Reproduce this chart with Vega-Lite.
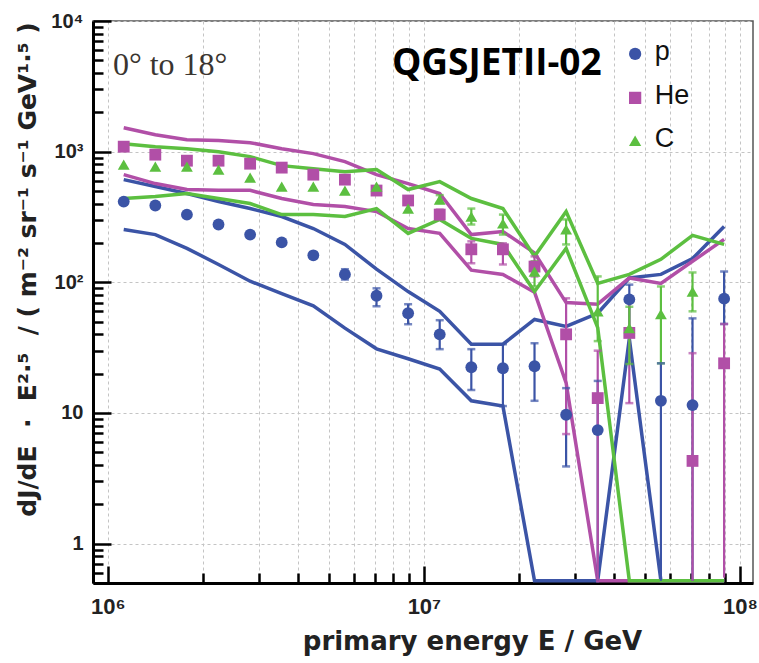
{
  "$schema": "https://vega.github.io/schema/vega-lite/v6.json",
  "autosize": "none",
  "width": 660,
  "height": 562,
  "padding": {"left": 93, "top": 21, "right": 6, "bottom": 80},
  "background": "white",
  "config": {
    "view": {"stroke": "#555555", "strokeWidth": 1.5},
    "axis": {"domainColor": "#000000", "domainWidth": 3, "tickColor": "#000000", "gridColor": "#c4c4c4", "gridDash": [3, 3], "gridWidth": 1}
  },
  "datasets": {
    "lines": [
      {"E": 1122018, "el": "p", "b": "u", "v": 611}, {"E": 1412538, "el": "p", "b": "u", "v": 541}, {"E": 1778279, "el": "p", "b": "u", "v": 478}, {"E": 2238721, "el": "p", "b": "u", "v": 415}, {"E": 2818383, "el": "p", "b": "u", "v": 367}, {"E": 3548134, "el": "p", "b": "u", "v": 319}, {"E": 4466836, "el": "p", "b": "u", "v": 258}, {"E": 5623413, "el": "p", "b": "u", "v": 195}, {"E": 7079458, "el": "p", "b": "u", "v": 126}, {"E": 8912509, "el": "p", "b": "u", "v": 85}, {"E": 11220185, "el": "p", "b": "u", "v": 60}, {"E": 14125375, "el": "p", "b": "u", "v": 33.6}, {"E": 17782794, "el": "p", "b": "u", "v": 33.6}, {"E": 22387211, "el": "p", "b": "u", "v": 52}, {"E": 28183829, "el": "p", "b": "u", "v": 46}, {"E": 35481339, "el": "p", "b": "u", "v": 58}, {"E": 44668359, "el": "p", "b": "u", "v": 108}, {"E": 56234133, "el": "p", "b": "u", "v": 115}, {"E": 70794578, "el": "p", "b": "u", "v": 152}, {"E": 89125094, "el": "p", "b": "u", "v": 267},
      {"E": 1122018, "el": "p", "b": "l", "v": 254}, {"E": 1412538, "el": "p", "b": "l", "v": 232}, {"E": 1778279, "el": "p", "b": "l", "v": 182}, {"E": 2238721, "el": "p", "b": "l", "v": 137}, {"E": 2818383, "el": "p", "b": "l", "v": 102}, {"E": 3548134, "el": "p", "b": "l", "v": 82}, {"E": 4466836, "el": "p", "b": "l", "v": 66}, {"E": 5623413, "el": "p", "b": "l", "v": 44.6}, {"E": 7079458, "el": "p", "b": "l", "v": 31}, {"E": 8912509, "el": "p", "b": "l", "v": 26}, {"E": 11220185, "el": "p", "b": "l", "v": 21.7}, {"E": 14125375, "el": "p", "b": "l", "v": 12.4}, {"E": 17782794, "el": "p", "b": "l", "v": 11.3}, {"E": 22387211, "el": "p", "b": "l", "v": 0.52}, {"E": 28183829, "el": "p", "b": "l", "v": 0.52}, {"E": 35481339, "el": "p", "b": "l", "v": 0.52}, {"E": 44668359, "el": "p", "b": "l", "v": 37}, {"E": 56234133, "el": "p", "b": "l", "v": 0.52}, {"E": 70794578, "el": "p", "b": "l", "v": 0.52}, {"E": 89125094, "el": "p", "b": "l", "v": 0.52},
      {"E": 1122018, "el": "He", "b": "u", "v": 1525}, {"E": 1412538, "el": "He", "b": "u", "v": 1349}, {"E": 1778279, "el": "He", "b": "u", "v": 1235}, {"E": 2238721, "el": "He", "b": "u", "v": 1215}, {"E": 2818383, "el": "He", "b": "u", "v": 1172}, {"E": 3548134, "el": "He", "b": "u", "v": 1054}, {"E": 4466836, "el": "He", "b": "u", "v": 966}, {"E": 5623413, "el": "He", "b": "u", "v": 839}, {"E": 7079458, "el": "He", "b": "u", "v": 667}, {"E": 8912509, "el": "He", "b": "u", "v": 570}, {"E": 11220185, "el": "He", "b": "u", "v": 478}, {"E": 14125375, "el": "He", "b": "u", "v": 232}, {"E": 17782794, "el": "He", "b": "u", "v": 245}, {"E": 22387211, "el": "He", "b": "u", "v": 168}, {"E": 28183829, "el": "He", "b": "u", "v": 70}, {"E": 35481339, "el": "He", "b": "u", "v": 68}, {"E": 44668359, "el": "He", "b": "u", "v": 108}, {"E": 56234133, "el": "He", "b": "u", "v": 98}, {"E": 70794578, "el": "He", "b": "u", "v": 145}, {"E": 89125094, "el": "He", "b": "u", "v": 213},
      {"E": 1122018, "el": "He", "b": "l", "v": 667}, {"E": 1412538, "el": "He", "b": "l", "v": 570}, {"E": 1778279, "el": "He", "b": "l", "v": 513}, {"E": 2238721, "el": "He", "b": "l", "v": 506}, {"E": 2818383, "el": "He", "b": "l", "v": 506}, {"E": 3548134, "el": "He", "b": "l", "v": 438}, {"E": 4466836, "el": "He", "b": "l", "v": 394}, {"E": 5623413, "el": "He", "b": "l", "v": 381}, {"E": 7079458, "el": "He", "b": "l", "v": 348}, {"E": 8912509, "el": "He", "b": "l", "v": 258}, {"E": 11220185, "el": "He", "b": "l", "v": 237}, {"E": 14125375, "el": "He", "b": "l", "v": 124}, {"E": 17782794, "el": "He", "b": "l", "v": 115}, {"E": 22387211, "el": "He", "b": "l", "v": 84}, {"E": 28183829, "el": "He", "b": "l", "v": 17}, {"E": 35481339, "el": "He", "b": "l", "v": 0.52}, {"E": 44668359, "el": "He", "b": "l", "v": 0.52}, {"E": 56234133, "el": "He", "b": "l", "v": 0.52}, {"E": 70794578, "el": "He", "b": "l", "v": 0.52}, {"E": 89125094, "el": "He", "b": "l", "v": 0.52},
      {"E": 1122018, "el": "C", "b": "u", "v": 1151}, {"E": 1412538, "el": "C", "b": "u", "v": 1092}, {"E": 1778279, "el": "C", "b": "u", "v": 1054}, {"E": 2238721, "el": "C", "b": "u", "v": 1000}, {"E": 2818383, "el": "C", "b": "u", "v": 916}, {"E": 3548134, "el": "C", "b": "u", "v": 782}, {"E": 4466836, "el": "C", "b": "u", "v": 741}, {"E": 5623413, "el": "C", "b": "u", "v": 703}, {"E": 7079458, "el": "C", "b": "u", "v": 729}, {"E": 8912509, "el": "C", "b": "u", "v": 513}, {"E": 11220185, "el": "C", "b": "u", "v": 590}, {"E": 14125375, "el": "C", "b": "u", "v": 438}, {"E": 17782794, "el": "C", "b": "u", "v": 367}, {"E": 22387211, "el": "C", "b": "u", "v": 158}, {"E": 28183829, "el": "C", "b": "u", "v": 348}, {"E": 35481339, "el": "C", "b": "u", "v": 98}, {"E": 44668359, "el": "C", "b": "u", "v": 115}, {"E": 56234133, "el": "C", "b": "u", "v": 150}, {"E": 70794578, "el": "C", "b": "u", "v": 229}, {"E": 89125094, "el": "C", "b": "u", "v": 195},
      {"E": 1122018, "el": "C", "b": "l", "v": 438}, {"E": 1412538, "el": "C", "b": "l", "v": 453}, {"E": 1778279, "el": "C", "b": "l", "v": 478}, {"E": 2238721, "el": "C", "b": "l", "v": 438}, {"E": 2818383, "el": "C", "b": "l", "v": 401}, {"E": 3548134, "el": "C", "b": "l", "v": 330}, {"E": 4466836, "el": "C", "b": "l", "v": 330}, {"E": 5623413, "el": "C", "b": "l", "v": 319}, {"E": 7079458, "el": "C", "b": "l", "v": 367}, {"E": 8912509, "el": "C", "b": "l", "v": 237}, {"E": 11220185, "el": "C", "b": "l", "v": 303}, {"E": 14125375, "el": "C", "b": "l", "v": 217}, {"E": 17782794, "el": "C", "b": "l", "v": 195}, {"E": 22387211, "el": "C", "b": "l", "v": 85}, {"E": 28183829, "el": "C", "b": "l", "v": 182}, {"E": 35481339, "el": "C", "b": "l", "v": 45}, {"E": 44668359, "el": "C", "b": "l", "v": 0.52}, {"E": 56234133, "el": "C", "b": "l", "v": 0.52}, {"E": 70794578, "el": "C", "b": "l", "v": 0.52}, {"E": 89125094, "el": "C", "b": "l", "v": 0.52}
    ],
    "pts": [
      {"E": 1122018, "el": "p", "y": 415}, {"E": 1412538, "el": "p", "y": 387}, {"E": 1778279, "el": "p", "y": 330}, {"E": 2238721, "el": "p", "y": 277}, {"E": 2818383, "el": "p", "y": 232}, {"E": 3548134, "el": "p", "y": 202}, {"E": 4466836, "el": "p", "y": 161}, {"E": 5623413, "el": "p", "y": 115, "lo": 105, "hi": 126}, {"E": 7079458, "el": "p", "y": 79, "lo": 65.6, "hi": 90}, {"E": 8912509, "el": "p", "y": 58, "lo": 47.8, "hi": 68}, {"E": 11220185, "el": "p", "y": 40, "lo": 30.8, "hi": 51.3}, {"E": 14125375, "el": "p", "y": 22.4, "lo": 15, "hi": 30.8}, {"E": 17782794, "el": "p", "y": 22, "lo": 11.3, "hi": 33.6}, {"E": 22387211, "el": "p", "y": 22.8, "lo": 12.4, "hi": 34.2}, {"E": 28183829, "el": "p", "y": 9.7, "lo": 3.9, "hi": 15.5}, {"E": 35481339, "el": "p", "y": 7.4, "lo": 0.52, "hi": 17.6}, {"E": 44668359, "el": "p", "y": 74, "lo": 40, "hi": 96}, {"E": 56234133, "el": "p", "y": 12.4, "lo": 0.52, "hi": 24}, {"E": 70794578, "el": "p", "y": 11.5, "lo": 0.52, "hi": 53}, {"E": 89125094, "el": "p", "y": 75, "lo": 48, "hi": 121},
      {"E": 1122018, "el": "He", "y": 1092}, {"E": 1412538, "el": "He", "y": 949}, {"E": 1778279, "el": "He", "y": 853}, {"E": 2238721, "el": "He", "y": 853}, {"E": 2818383, "el": "He", "y": 809}, {"E": 3548134, "el": "He", "y": 755}, {"E": 4466836, "el": "He", "y": 667}, {"E": 5623413, "el": "He", "y": 611}, {"E": 7079458, "el": "He", "y": 504}, {"E": 8912509, "el": "He", "y": 423, "lo": 400, "hi": 450}, {"E": 11220185, "el": "He", "y": 330, "lo": 305, "hi": 360}, {"E": 14125375, "el": "He", "y": 179, "lo": 140, "hi": 206}, {"E": 17782794, "el": "He", "y": 179, "lo": 137, "hi": 199}, {"E": 22387211, "el": "He", "y": 132, "lo": 111, "hi": 158}, {"E": 28183829, "el": "He", "y": 40, "lo": 6.9, "hi": 75.5}, {"E": 35481339, "el": "He", "y": 13, "lo": 0.52, "hi": 30}, {"E": 44668359, "el": "He", "y": 41, "lo": 11.9, "hi": 71}, {"E": 70794578, "el": "He", "y": 4.3, "lo": 0.52, "hi": 28.7}, {"E": 89125094, "el": "He", "y": 24, "lo": 0.55, "hi": 48},
      {"E": 1122018, "el": "C", "y": 796}, {"E": 1412538, "el": "C", "y": 768}, {"E": 1778279, "el": "C", "y": 768}, {"E": 2238721, "el": "C", "y": 729}, {"E": 2818383, "el": "C", "y": 634}, {"E": 3548134, "el": "C", "y": 541}, {"E": 4466836, "el": "C", "y": 541}, {"E": 5623413, "el": "C", "y": 504}, {"E": 7079458, "el": "C", "y": 541}, {"E": 8912509, "el": "C", "y": 367}, {"E": 11220185, "el": "C", "y": 430, "lo": 405, "hi": 465}, {"E": 14125375, "el": "C", "y": 319, "lo": 277, "hi": 367}, {"E": 17782794, "el": "C", "y": 282, "lo": 232, "hi": 330}, {"E": 22387211, "el": "C", "y": 121, "lo": 93, "hi": 145}, {"E": 28183829, "el": "C", "y": 254, "lo": 195, "hi": 303}, {"E": 35481339, "el": "C", "y": 60, "lo": 35.5, "hi": 111}, {"E": 44668359, "el": "C", "y": 44.6, "lo": 23.7, "hi": 65}, {"E": 56234133, "el": "C", "y": 57, "lo": 24, "hi": 93}, {"E": 70794578, "el": "C", "y": 85, "lo": 60, "hi": 119}
    ],
    "key": [
      {"E": 46600000, "tE": 53800000, "y": 5600, "el": "p"},
      {"E": 46600000, "tE": 53800000, "y": 2580, "el": "He"},
      {"E": 46600000, "tE": 53800000, "y": 1213, "el": "C"}
    ]
  },
  "encoding": {
    "x": {
      "field": "E", "type": "quantitative",
      "scale": {"type": "log", "domain": [897000, 110000000], "nice": false, "zero": false},
      "axis": {
        "title": "primary energy E / GeV",
        "titleFont": "DejaVu Sans", "titleFontSize": 26, "titleFontWeight": "bold", "titleColor": "#222222", "titlePadding": 4, "titleX": 379,
        "values": [1000000, 2000000, 3000000, 4000000, 5000000, 6000000, 7000000, 8000000, 9000000, 10000000, 20000000, 30000000, 40000000, 50000000, 60000000, 70000000, 80000000, 90000000, 100000000],
        "labelExpr": "datum.value == 1000000 ? '10⁶' : datum.value == 10000000 ? '10⁷' : datum.value == 100000000 ? '10⁸' : ''",
        "labelFont": "Liberation Sans", "labelFontSize": 22, "labelFontWeight": "bold", "labelColor": "#222222",
        "labelPadding": 30, "labelOverlap": false, "labelFlush": false,
        "tickSize": {"condition": {"test": "datum.value == 1000000 || datum.value == 10000000 || datum.value == 100000000", "value": -17}, "value": -10},
        "tickWidth": 2.5,
        "grid": true
      }
    },
    "y": {
      "type": "quantitative",
      "scale": {"type": "log", "domain": [0.5, 10000], "nice": false, "zero": false},
      "axis": {
        "title": "dJ/dE \u00a0·\u00a0 E²·⁵ \u00a0/ ( m⁻² sr⁻¹ s⁻¹ GeV¹·⁵ )",
        "titleFont": "DejaVu Sans", "titleFontSize": 25, "titleFontWeight": "bold", "titleColor": "#222222", "titlePadding": 10, "titleY": 248,
        "values": [0.5, 0.6, 0.7, 0.8, 0.9, 1, 2, 3, 4, 5, 6, 7, 8, 9, 10, 20, 30, 40, 50, 60, 70, 80, 90, 100, 200, 300, 400, 500, 600, 700, 800, 900, 1000, 2000, 3000, 4000, 5000, 6000, 7000, 8000, 9000, 10000],
        "labelExpr": "datum.value == 1 ? '1' : datum.value == 10 ? '10' : datum.value == 100 ? '10²' : datum.value == 1000 ? '10³' : datum.value == 10000 ? '10⁴' : ''",
        "labelFont": "Liberation Sans", "labelFontSize": 20, "labelFontWeight": "bold", "labelColor": "#222222",
        "labelPadding": 28, "labelOverlap": false, "labelFlush": false,
        "tickSize": {"condition": {"test": "datum.value == 1 || datum.value == 10 || datum.value == 100 || datum.value == 1000 || datum.value == 10000", "value": -18}, "value": -10},
        "tickWidth": 2.5,
        "grid": true,
        "gridOpacity": {"condition": {"test": "datum.value == 1 || datum.value == 10 || datum.value == 100 || datum.value == 1000 || datum.value == 10000", "value": 1}, "value": 0}
      }
    },
    "color": {"field": "el", "type": "nominal", "scale": {"domain": ["p", "He", "C"], "range": ["#3b54a6", "#b14fa7", "#5cbf40"]}, "legend": null}
  },
  "layer": [
    {
      "data": {"name": "lines"},
      "mark": {"type": "line", "strokeWidth": 3.5, "clip": true},
      "encoding": {
        "y": {"field": "v", "type": "quantitative"},
        "detail": {"field": "b"}
      }
    },
    {
      "data": {"name": "pts"},
      "transform": [{"filter": "isValid(datum.lo)"}],
      "mark": {"type": "rule", "strokeWidth": 2.2, "clip": true},
      "encoding": {
        "y": {"field": "lo", "type": "quantitative"},
        "y2": {"field": "hi"}
      }
    },
    {
      "data": {"name": "pts"},
      "transform": [{"filter": "isValid(datum.lo) && datum.lo > 0.6"}],
      "mark": {"type": "tick", "orient": "horizontal", "size": 8, "thickness": 2.5, "clip": true},
      "encoding": {
        "y": {"field": "lo", "type": "quantitative"}
      }
    },
    {
      "data": {"name": "pts"},
      "transform": [{"filter": "isValid(datum.hi)"}],
      "mark": {"type": "tick", "orient": "horizontal", "size": 8, "thickness": 2.5, "clip": true},
      "encoding": {
        "y": {"field": "hi", "type": "quantitative"}
      }
    },
    {
      "data": {"name": "pts"},
      "mark": {"type": "point", "filled": true, "opacity": 1, "size": 140},
      "encoding": {
        "y": {"field": "y", "type": "quantitative"},
        "shape": {"field": "el", "type": "nominal", "scale": {"domain": ["p", "He", "C"], "range": ["circle", "square", "triangle-up"]}, "legend": null}
      }
    },
    {
      "data": {"name": "key"},
      "mark": {"type": "point", "filled": true, "opacity": 1, "size": 150},
      "encoding": {
        "y": {"field": "y", "type": "quantitative"},
        "shape": {"field": "el", "type": "nominal", "legend": null}
      }
    },
    {
      "data": {"name": "key"},
      "mark": {"type": "text", "font": "Liberation Sans", "fontSize": 27, "align": "left", "baseline": "middle", "dy": -2},
      "encoding": {
        "x": {"field": "tE", "type": "quantitative"},
        "y": {"field": "y", "type": "quantitative"},
        "text": {"field": "el"},
        "color": {"value": "#111111"}
      }
    },
    {
      "data": {"values": [{"E": 17000000, "y": 4700, "t": "QGSJETII-02"}]},
      "mark": {"type": "text", "font": "Open Sans", "fontWeight": "bold", "fontSize": 37, "align": "center", "baseline": "middle"},
      "encoding": {"y": {"field": "y", "type": "quantitative"}, "text": {"field": "t"}, "color": {"value": "#000000"}}
    },
    {
      "data": {"values": [{"E": 1037000, "y": 4617, "t": "0° to 18°"}]},
      "mark": {"type": "text", "font": "Liberation Serif", "fontSize": 32, "align": "left", "baseline": "middle"},
      "encoding": {"y": {"field": "y", "type": "quantitative"}, "text": {"field": "t"}, "color": {"value": "#3a3530"}}
    }
  ]
}
